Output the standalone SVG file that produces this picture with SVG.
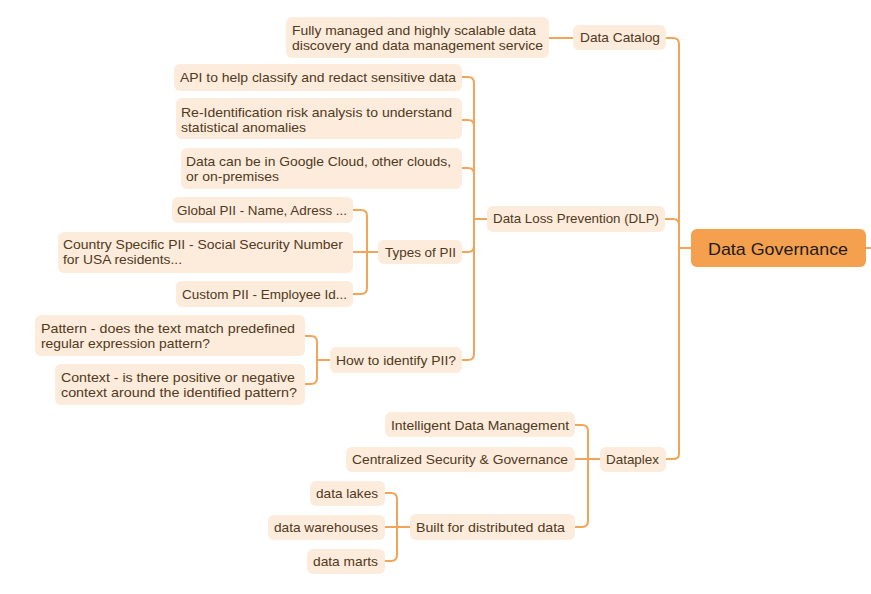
<svg xmlns="http://www.w3.org/2000/svg" width="871" height="594" viewBox="0 0 871 594">
<style>
.n rect{fill:#FDEBDB;}
.n text{font-family:"Liberation Sans",Arial,sans-serif;font-size:13px;fill:#4F3A22;}
.root rect{fill:#F4A04E;}
.root text{font-family:"Liberation Sans",Arial,sans-serif;font-size:17px;fill:#1E1A16;}
.c path{fill:none;stroke:#F2A559;stroke-width:2;}
</style>
<rect width="871" height="594" fill="#FFFFFF"/>
<g class="c">
<path d="M866 248H871"/>
<path d="M691 248H679"/>
<path d="M666 38H673Q679 38 679 44V454Q679 459 673 459H666"/>
<path d="M665 219H673Q679 219 679 225V248"/>
<path d="M549 38H573"/>
<path d="M487 219H474"/>
<path d="M462 77H468Q474 77 474 83V354Q474 360 468 360H462"/>
<path d="M462 120H468Q474 120 474 126"/>
<path d="M462 168H468Q474 168 474 174"/>
<path d="M462 252H468Q474 252 474 246"/>
<path d="M378 252H367"/>
<path d="M353 210H361Q367 210 367 216V288Q367 294 361 294H353"/>
<path d="M353 252H367"/>
<path d="M330 360H317"/>
<path d="M305 336H311Q317 336 317 342V378Q317 384 311 384H305"/>
<path d="M600 459H588"/>
<path d="M575 425H582Q588 425 588 431V521Q588 527 582 527H575"/>
<path d="M575 459H588"/>
<path d="M410 527H397"/>
<path d="M385 493H391Q397 493 397 499V555Q397 561 391 561H385"/>
<path d="M385 527H397"/>
</g>
<g id="root" class="root"><rect x="691" y="229" width="175" height="38" rx="6"/><text x="708" y="255" textLength="140" lengthAdjust="spacingAndGlyphs">Data Governance</text></g>
<g id="catalog" class="n"><rect x="573" y="25" width="93" height="25" rx="6"/><text x="580" y="42" textLength="80" lengthAdjust="spacingAndGlyphs">Data Catalog</text></g>
<g id="catalog-desc" class="n"><rect x="286" y="17" width="263" height="41" rx="6"/><text x="292" y="35" textLength="244" lengthAdjust="spacingAndGlyphs">Fully managed and highly scalable data</text><text x="292" y="50" textLength="251" lengthAdjust="spacingAndGlyphs">discovery and data management service</text></g>
<g id="dlp" class="n"><rect x="487" y="206" width="178" height="26" rx="6"/><text x="493" y="223" textLength="166" lengthAdjust="spacingAndGlyphs">Data Loss Prevention (DLP)</text></g>
<g id="api" class="n"><rect x="174" y="64" width="288" height="27" rx="6"/><text x="180" y="82" textLength="276" lengthAdjust="spacingAndGlyphs">API to help classify and redact sensitive data</text></g>
<g id="reid" class="n"><rect x="176" y="98" width="286" height="41" rx="6"/><text x="181" y="117" textLength="271" lengthAdjust="spacingAndGlyphs">Re-Identification risk analysis to understand</text><text x="181" y="132" textLength="125" lengthAdjust="spacingAndGlyphs">statistical anomalies</text></g>
<g id="clouds" class="n"><rect x="181" y="148" width="281" height="41" rx="6"/><text x="186" y="166" textLength="265" lengthAdjust="spacingAndGlyphs">Data can be in Google Cloud, other clouds,</text><text x="186" y="181" textLength="93" lengthAdjust="spacingAndGlyphs">or on-premises</text></g>
<g id="types" class="n"><rect x="378" y="240" width="84" height="24" rx="6"/><text x="385" y="257" textLength="71" lengthAdjust="spacingAndGlyphs">Types of PII</text></g>
<g id="global" class="n"><rect x="172" y="197" width="181" height="26" rx="6"/><text x="177" y="215" textLength="170" lengthAdjust="spacingAndGlyphs">Global PII - Name, Adress ...</text></g>
<g id="country" class="n"><rect x="58" y="232" width="295" height="41" rx="6"/><text x="63" y="249" textLength="280" lengthAdjust="spacingAndGlyphs">Country Specific PII - Social Security Number</text><text x="63" y="264" textLength="119" lengthAdjust="spacingAndGlyphs">for USA residents...</text></g>
<g id="custom" class="n"><rect x="176" y="281" width="177" height="26" rx="6"/><text x="182" y="299" textLength="165" lengthAdjust="spacingAndGlyphs">Custom PII - Employee Id...</text></g>
<g id="how" class="n"><rect x="330" y="347" width="132" height="26" rx="6"/><text x="336" y="365" textLength="120" lengthAdjust="spacingAndGlyphs">How to identify PII?</text></g>
<g id="pattern" class="n"><rect x="35" y="315" width="270" height="41" rx="6"/><text x="41" y="333" textLength="254" lengthAdjust="spacingAndGlyphs">Pattern - does the text match predefined</text><text x="41" y="348" textLength="169" lengthAdjust="spacingAndGlyphs">regular expression pattern?</text></g>
<g id="context" class="n"><rect x="55" y="364" width="250" height="41" rx="6"/><text x="61" y="382" textLength="234" lengthAdjust="spacingAndGlyphs">Context - is there positive or negative</text><text x="61" y="397" textLength="236" lengthAdjust="spacingAndGlyphs">context around the identified pattern?</text></g>
<g id="dataplex" class="n"><rect x="600" y="447" width="66" height="25" rx="6"/><text x="606" y="464" textLength="53" lengthAdjust="spacingAndGlyphs">Dataplex</text></g>
<g id="intelligent" class="n"><rect x="385" y="412" width="190" height="25" rx="6"/><text x="391" y="430" textLength="178" lengthAdjust="spacingAndGlyphs">Intelligent Data Management</text></g>
<g id="centralized" class="n"><rect x="346" y="447" width="229" height="25" rx="6"/><text x="352" y="464" textLength="216" lengthAdjust="spacingAndGlyphs">Centralized Security &amp; Governance</text></g>
<g id="built" class="n"><rect x="410" y="514" width="165" height="26" rx="6"/><text x="416" y="532" textLength="149" lengthAdjust="spacingAndGlyphs">Built for distributed data</text></g>
<g id="lakes" class="n"><rect x="310" y="481" width="75" height="25" rx="6"/><text x="316" y="498" textLength="62" lengthAdjust="spacingAndGlyphs">data lakes</text></g>
<g id="warehouses" class="n"><rect x="268" y="515" width="117" height="25" rx="6"/><text x="274" y="532" textLength="104" lengthAdjust="spacingAndGlyphs">data warehouses</text></g>
<g id="marts" class="n"><rect x="307" y="549" width="78" height="25" rx="6"/><text x="313" y="566" textLength="65" lengthAdjust="spacingAndGlyphs">data marts</text></g>
</svg>
